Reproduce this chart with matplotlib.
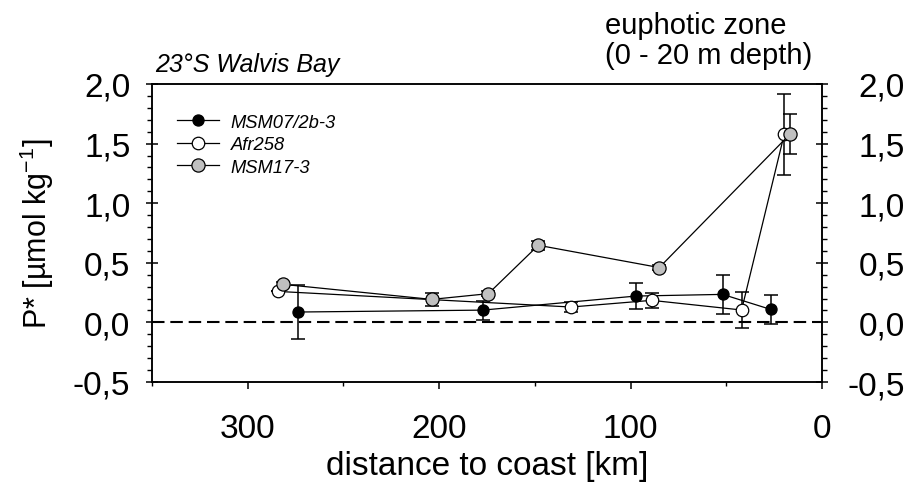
import numpy as np
import matplotlib
matplotlib.use("Agg")
import matplotlib.pyplot as plt
from matplotlib.ticker import MultipleLocator, FuncFormatter

plt.rcParams['font.family'] = ['Liberation Sans', 'DejaVu Sans']

# MSM07/2b-3 (black)
msm07_dist = [273.9, 177.3, 97.2, 51.9, 26.8]
msm07_val = [0.087, 0.103, 0.221, 0.235, 0.109]
msm07_err = [0.225, 0.08, 0.108, 0.165, 0.12]

# Afr258 (white)
afr_dist = [284.3, 131.1, 89.0, 42.0, 19.7]
afr_val = [0.26, 0.129, 0.185, 0.104, 1.58]
afr_err = [0.0, 0.04, 0.06, 0.15, 0.34]

# MSM17-3 (grey)
msm17_dist = [281.4, 203.9, 174.3, 148.2, 85.0, 16.7]
msm17_val = [0.319, 0.193, 0.241, 0.647, 0.46, 1.58]
msm17_err = [0.02, 0.053, 0.02, 0.04, 0.02, 0.165]

series = [
    ("MSM07/2b-3", msm07_dist, msm07_val, msm07_err, "black", 8),
    ("Afr258", afr_dist, afr_val, afr_err, "white", 9),
    ("MSM17-3", msm17_dist, msm17_val, msm17_err, "#c0c0c0", 9.5),
]

comma = FuncFormatter(lambda y, p: f"{y:.1f}".replace(".", ","))

fig = plt.figure(figsize=(9.07, 4.85), dpi=100)
ax = fig.add_axes([152 / 907, 1 - 383 / 485, 670 / 907, 298 / 485])

ax.axhline(0, color="black", lw=1.5, ls=(0, (6, 2.8)), zorder=1)

for name, d, v, e, col, ms in series:
    ax.errorbar(d, v, yerr=e, fmt="none", ecolor="black", elinewidth=1.1,
                capsize=5, capthick=1.1, zorder=2)
    ax.plot(d, v, "-", color="black", lw=0.9, marker="o", markersize=ms,
            markerfacecolor=col, markeredgecolor="black", markeredgewidth=0.9,
            label=name, zorder=3)

ax.set_xlim(350, 0)
ax.set_ylim(-0.5, 2.0)

ax.xaxis.set_major_locator(MultipleLocator(100))
ax.xaxis.set_minor_locator(MultipleLocator(50))
ax.yaxis.set_major_locator(MultipleLocator(0.5))
ax.yaxis.set_minor_locator(MultipleLocator(0.1))
ax.yaxis.set_major_formatter(comma)

# right-hand axis, same scale, labels right-aligned at the figure edge
ax2 = ax.twinx()
ax2.set_ylim(ax.get_ylim())
ax2.yaxis.set_major_locator(MultipleLocator(0.5))
ax2.yaxis.set_minor_locator(MultipleLocator(0.1))
ax2.yaxis.set_major_formatter(comma)

ax.tick_params(axis="y", which="major", direction="inout", length=9, width=1.1,
               labelsize=24, pad=11, right=False)
ax.tick_params(axis="y", which="minor", direction="out", length=3.5, width=1.0, right=False)
ax2.tick_params(axis="y", which="major", direction="inout", length=9, width=1.1,
                labelsize=24, pad=55)
ax2.tick_params(axis="y", which="minor", direction="out", length=3.5, width=1.0)
for lbl in ax2.get_yticklabels():
    lbl.set_horizontalalignment("right")
ax.tick_params(axis="x", which="major", direction="out", length=5, width=1.1,
               labelsize=24, pad=17, top=False)
ax.tick_params(axis="x", which="minor", direction="out", length=3, width=1.0, top=False)
for a in (ax, ax2):
    for s in a.spines.values():
        s.set_linewidth(1.1)

ax.set_xlabel("distance to coast [km]", fontsize=24, labelpad=5)
ax.set_ylabel("P* [µmol kg$^{\\mathregular{-1}}$]", fontsize=22, labelpad=12)

fig.text(155 / 907, 1 - 72 / 485, "23°S Walvis Bay", fontsize=18, style="italic",
         ha="left", va="baseline")
fig.text(605 / 907, 1 - 34 / 485, "euphotic zone", fontsize=21, ha="left", va="baseline")
fig.text(605 / 907, 1 - 64 / 485, "(0 - 20 m depth)", fontsize=21, ha="left", va="baseline")

leg = ax.legend(loc="upper left", bbox_to_anchor=(0.037, 0.9), frameon=False,
                fontsize=13.2, handlelength=2.3, handletextpad=0.65,
                labelspacing=0.3, borderpad=0, borderaxespad=0)
for t in leg.get_texts():
    t.set_style("italic")

fig.savefig("out.png", dpi=100)
